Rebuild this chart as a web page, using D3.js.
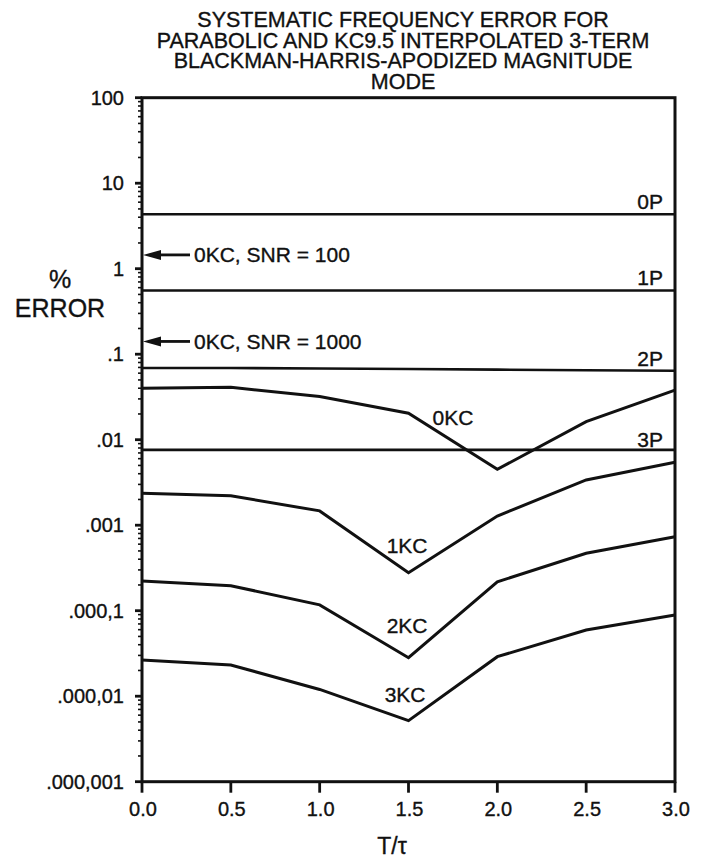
<!DOCTYPE html>
<html lang="en">
<head>
  <meta charset="UTF-8">
  <title>Systematic frequency error</title>
  <script src="https://d3js.org/d3.v7.min.js"></script>
  <style>
    body { margin: 0; background: #fff; }
    svg { display: block; font-family: "Liberation Sans", Arial, sans-serif; }
    text { fill: #111; stroke: #111; stroke-width: 0.35px; }
    .tick-label { font-size: 20px; }
    .series-label { font-size: 21px; }
  </style>
</head>
<body>
  <svg id="chart" width="707" height="858"></svg>
  <script>
    // T/tau sample points
    const xs = [0, 0.5, 1.0, 1.5, 2.0, 2.5, 3.0];
    const xTickLabels = ['0.0', '0.5', '1.0', '1.5', '2.0', '2.5', '3.0'];
    const yTicks = [100, 10, 1, 0.1, 0.01, 0.001, 0.0001, 0.00001, 0.000001];
    const yTickLabels = ['100', '10', '1', '.1', '.01', '.001', '.000,1', '.000,01', '.000,001'];

    // parabolic interpolation, % error
    const p0 = [4.33, 4.33, 4.33, 4.33, 4.33, 4.33, 4.33];
    const p1 = [0.556, 0.556, 0.556, 0.556, 0.556, 0.556, 0.556];
    const p2 = [0.069, 0.069, 0.068, 0.067, 0.066, 0.065, 0.064];
    const p3 = [0.0076, 0.0076, 0.0076, 0.0076, 0.0076, 0.0076, 0.0076];

    // KC9.5 interpolation, % error
    const kc0 = [0.040, 0.041, 0.032, 0.0204, 0.0045, 0.0163, 0.038];
    const kc1 = [0.00236, 0.00221, 0.00147, 0.000278, 0.00128, 0.00338, 0.00544];
    const kc2 = [0.000222, 0.000196, 0.000117, 0.0000282, 0.000218, 0.000469, 0.000733];
    const kc3 = [0.0000265, 0.0000232, 0.000012, 0.00000517, 0.000029, 0.0000594, 0.000089];

    // noise-limited 0KC levels (arrows on the y axis)
    const snrNames = ['0KC, SNR = 100', '0KC, SNR = 1000'];
    const snrLevels = [1.45, 0.141];

    const svg = d3.select('#chart');
    const plotL = 142, plotR = 675, plotT = 97.7, plotB = 781.7;

    const x = d3.scaleLinear().domain([0, 3]).range([plotL, plotR]);
    const y = d3.scaleLog().domain([0.000001, 100]).range([plotB, plotT]);

    // title, one text block with tight leading
    const title = ['SYSTEMATIC FREQUENCY ERROR FOR',
                   'PARABOLIC AND KC9.5 INTERPOLATED 3-TERM',
                   'BLACKMAN-HARRIS-APODIZED MAGNITUDE',
                   'MODE'];
    svg.append('text')
      .attr('text-anchor', 'middle')
      .style('font-size', '21.5px')
      .selectAll('tspan').data(title).join('tspan')
      .attr('x', 403).attr('y', (d, i) => 27 + i * 20.5)
      .text(d => d);

    // y axis label
    svg.append('text')
      .attr('text-anchor', 'middle')
      .style('font-size', '25px')
      .selectAll('tspan').data(['%', 'ERROR']).join('tspan')
      .attr('x', 60).attr('y', (d, i) => 288 + i * 29)
      .text(d => d);

    // x axis label
    svg.append('text').attr('x', 392).attr('y', 854).attr('text-anchor', 'middle')
      .style('font-size', '23px').text('T/\u03c4');

    // minor log ticks on left axis
    const minor = [];
    for (let e = -6; e < 2; e++) for (let m = 2; m <= 9; m++) minor.push(m * Math.pow(10, e));
    svg.append('g').selectAll('line').data(minor).join('line')
      .attr('x1', plotL - 4).attr('x2', plotL)
      .attr('y1', d => y(d)).attr('y2', d => y(d))
      .attr('stroke', '#111').attr('stroke-width', 1.6);

    // major y ticks + labels
    const yAxis = svg.append('g');
    yAxis.selectAll('line').data(yTicks).join('line')
      .attr('x1', plotL - 7).attr('x2', plotL)
      .attr('y1', d => y(d)).attr('y2', d => y(d))
      .attr('stroke', '#111').attr('stroke-width', 2.8);
    yAxis.selectAll('text').data(yTicks).join('text')
      .attr('class', 'tick-label')
      .attr('x', plotL - 18).attr('y', d => y(d) + 7)
      .attr('text-anchor', 'end')
      .text((d, i) => yTickLabels[i]);

    // x ticks + labels
    const xAxis = svg.append('g');
    xAxis.selectAll('line').data(xs).join('line')
      .attr('x1', d => x(d)).attr('x2', d => x(d))
      .attr('y1', plotB).attr('y2', plotB + 11)
      .attr('stroke', '#111').attr('stroke-width', 2.8);
    xAxis.selectAll('text').data(xs).join('text')
      .attr('class', 'tick-label')
      .attr('x', d => x(d) + 1).attr('y', plotB + 34)
      .attr('text-anchor', 'middle')
      .text((d, i) => xTickLabels[i]);

    // frame
    svg.append('rect')
      .attr('x', plotL).attr('y', plotT)
      .attr('width', plotR - plotL).attr('height', plotB - plotT)
      .attr('fill', 'none').attr('stroke', '#111').attr('stroke-width', 3);

    // curves
    const line = d3.line().x((d, i) => x(xs[i])).y(d => y(d));
    const series = [
      { name: '0P', values: p0, w: 2.6 },
      { name: '1P', values: p1, w: 2.6 },
      { name: '2P', values: p2, w: 2.6 },
      { name: '3P', values: p3, w: 2.6 },
      { name: '0KC', values: kc0, w: 3 },
      { name: '1KC', values: kc1, w: 3 },
      { name: '2KC', values: kc2, w: 3 },
      { name: '3KC', values: kc3, w: 3 }
    ];
    svg.append('g').selectAll('path').data(series).join('path')
      .attr('d', d => line(d.values))
      .attr('fill', 'none').attr('stroke', '#111')
      .attr('stroke-width', d => d.w).attr('stroke-linejoin', 'miter');

    // series labels
    const labelSpots = [
      { name: '0P', at: 6, dx: -12, dy: -5, anchor: 'end' },
      { name: '1P', at: 6, dx: -12, dy: -5, anchor: 'end' },
      { name: '2P', at: 6, dx: -12, dy: -5, anchor: 'end' },
      { name: '3P', at: 6, dx: -12, dy: -3, anchor: 'end' },
      { name: '0KC', at: 3, dx: 24, dy: 12, anchor: 'start' },
      { name: '1KC', at: 3, dx: 19, dy: -20, anchor: 'end' },
      { name: '2KC', at: 3, dx: 19, dy: -25, anchor: 'end' },
      { name: '3KC', at: 3, dx: 17, dy: -19, anchor: 'end' }
    ];
    svg.append('g').selectAll('text').data(labelSpots).join('text')
      .attr('class', 'series-label')
      .attr('x', d => x(xs[d.at]) + d.dx)
      .attr('y', d => y(series.find(s => s.name === d.name).values[d.at]) + d.dy)
      .attr('text-anchor', d => d.anchor)
      .text(d => d.name);

    // SNR arrows
    const arrows = svg.append('g').selectAll('g').data(snrLevels).join('g');
    arrows.append('line')
      .attr('x1', plotL + 16).attr('x2', plotL + 48)
      .attr('y1', d => y(d)).attr('y2', d => y(d))
      .attr('stroke', '#111').attr('stroke-width', 2.8);
    arrows.append('path')
      .attr('d', d => `M${plotL + 1},${y(d)} L${plotL + 19},${y(d) - 5} L${plotL + 19},${y(d) + 5} Z`)
      .attr('fill', '#111');
    arrows.append('text')
      .attr('class', 'series-label')
      .attr('x', plotL + 52).attr('y', d => y(d) + 7.5)
      .text((d, i) => snrNames[i]);
  </script>
</body>
</html>
